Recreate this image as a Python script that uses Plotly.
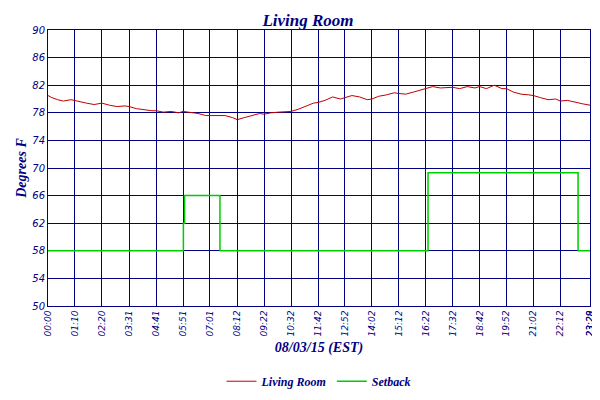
import plotly.graph_objects as go

# minutes since midnight
room_t = [0, 10, 25, 40, 60, 80, 100, 120, 140, 160, 180, 200, 211, 230, 250, 270, 281,
          300, 320, 340, 351, 370, 390, 410, 421, 440, 460, 480, 492, 510, 530, 550, 562,
          580, 600, 620, 632, 650, 670, 690, 702, 720, 740, 760, 772, 790, 810, 830, 842,
          860, 880, 900, 912, 930, 950, 970, 982, 1000, 1020, 1040, 1052, 1070, 1090,
          1110, 1122, 1140, 1160, 1180, 1192, 1210, 1230, 1250, 1262, 1280, 1300, 1320,
          1332, 1350, 1370, 1390, 1409]
room_v = [80.5, 80.2, 79.9, 79.7, 79.9, 79.6, 79.4, 79.2, 79.4, 79.1, 78.9, 79.0, 78.9,
          78.6, 78.4, 78.3, 78.3, 78.1, 78.2, 78.0, 78.2, 78.1, 77.9, 77.6, 77.6, 77.5,
          77.6, 77.3, 77.0, 77.3, 77.6, 77.9, 77.8, 78.0, 78.1, 78.2, 78.2, 78.5, 79.0,
          79.4, 79.5, 79.8, 80.3, 80.0, 80.2, 80.5, 80.3, 79.9, 80.0, 80.4, 80.6, 80.9,
          80.8, 80.7, 81.0, 81.3, 81.5, 81.8, 81.6, 81.7, 81.7, 81.5, 81.8, 81.6, 81.8,
          81.5, 82.0, 81.5, 81.5, 81.0, 80.7, 80.6, 80.5, 80.2, 79.9, 80.0, 79.7, 79.8,
          79.5, 79.3, 79.1]

setback_t = [0, 352, 352, 355, 355, 447, 447, 988, 988, 1378, 1378, 1409]
setback_v = [58, 58, 62, 62, 66, 66, 58, 58, 69.3, 69.3, 58, 58]

tick_vals = [0, 70, 140, 211, 281, 351, 421, 492, 562, 632, 702, 772, 842, 912,
             982, 1052, 1122, 1192, 1262, 1332, 1408, 1409]
tick_text = ["00:00", "01:10", "02:20", "03:31", "04:41", "05:51", "07:01", "08:12",
             "09:22", "10:32", "11:42", "12:52", "14:02", "15:12", "16:22", "17:32",
             "18:42", "19:52", "21:02", "22:12", "23:28", "23:29"]
y_ticks = [50, 54, 58, 62, 66, 70, 74, 78, 82, 86, 90]

NAVY = "#000080"
FONT = "Liberation Serif"

fig = go.Figure()
fig.add_trace(go.Scatter(x=room_t, y=room_v, mode="lines", name="Living Room",
                         line=dict(color="#c00000", width=1)))
fig.add_trace(go.Scatter(x=setback_t, y=setback_v, mode="lines", name="Setback",
                         line=dict(color="#00cc00", width=1.5)))
# invisible trace to show the mirrored right axis
fig.add_trace(go.Scatter(x=[0], y=[50], yaxis="y2", mode="markers",
                         marker=dict(opacity=0), showlegend=False, hoverinfo="skip"))

axis_font = dict(family="DejaVu Sans", size=10, color=NAVY, style="italic")
fig.update_layout(
    width=600, height=400,
    margin=dict(l=40, r=18, t=22, b=78),
    paper_bgcolor="white", plot_bgcolor="white",
    title=dict(text="<b><i>Living Room</i></b>", x=0.5, y=0.985, xanchor="center",
               font=dict(family=FONT, size=17, color=NAVY)),
    xaxis=dict(range=[0, 1409], tickvals=tick_vals, ticktext=tick_text, tickangle=-90,
               tickfont=dict(family="DejaVu Sans", size=9, color=NAVY, style="italic"),
               showgrid=True, gridcolor=NAVY, gridwidth=1, zeroline=False,
               showline=True, linecolor=NAVY, mirror=True, automargin=False,
               title=dict(text="<b><i>08/03/15 (EST)</i></b>",
                          font=dict(family=FONT, size=14, color=NAVY), standoff=6)),
    yaxis=dict(range=[50, 90], tickvals=y_ticks, tickfont=axis_font, automargin=False,
               showgrid=True, gridcolor=NAVY, gridwidth=1, zeroline=False,
               showline=True, linecolor=NAVY,
               title=dict(text="<b><i>Degrees F</i></b>",
                          font=dict(family=FONT, size=14, color=NAVY), standoff=2)),
    yaxis2=dict(range=[50, 90], tickvals=y_ticks, tickfont=axis_font, overlaying="y",
                side="right", showgrid=False, zeroline=False, automargin=False,
                showline=True, linecolor=NAVY),
    legend=dict(orientation="h", x=0.5, xanchor="center", y=-0.22, yanchor="top",
                font=dict(family=FONT, size=12, color=NAVY, style="italic", weight="bold")),
)

fig.write_html("out.html")
